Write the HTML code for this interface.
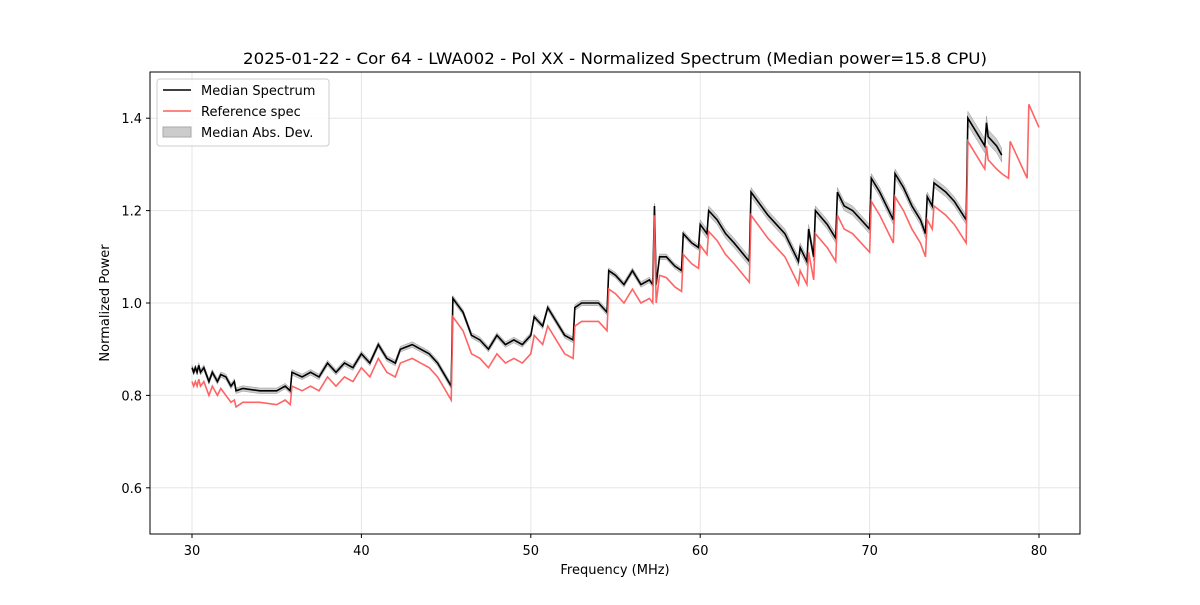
<!DOCTYPE html>
<html><head><meta charset="utf-8"><style>
body{margin:0;background:#fff;font-family:"Liberation Sans","DejaVu Sans",sans-serif;}
svg text{font-family:"DejaVu Sans","Liberation Sans",sans-serif;}
</style></head><body>
<svg id="chart" width="1200" height="600" xmlns="http://www.w3.org/2000/svg">
<rect width="1200" height="600" fill="#fff"/>
<text x="615" y="64" font-size="16" textLength="744" lengthAdjust="spacingAndGlyphs" text-anchor="middle">2025-01-22 - Cor 64 - LWA002 - Pol XX - Normalized Spectrum (Median power=15.8 CPU)</text>
<g id="grid"></g>
<g id="series"></g>
<rect x="150" y="72" width="930" height="462" fill="none" stroke="#000" stroke-width="1"/>
<g id="ticks"></g>
<text x="615" y="574" font-size="13" text-anchor="middle">Frequency (MHz)</text>
<text transform="translate(109,303) rotate(-90)" font-size="13" text-anchor="middle">Normalized Power</text>
<g>
<rect x="157" y="79" width="172" height="67" rx="3" fill="#fff" fill-opacity="0.8" stroke="#ccc"/>
<line x1="163" y1="90" x2="191" y2="90" stroke="#000" stroke-width="1.5"/>
<text x="201" y="95" font-size="13">Median Spectrum</text>
<line x1="163" y1="111" x2="191" y2="111" stroke="#ff5c5c" stroke-width="1.5"/>
<text x="201" y="116" font-size="13">Reference spec</text>
<rect x="163" y="127" width="28" height="10" fill="#ccc" stroke="#aaa"/>
<text x="201" y="137" font-size="13">Median Abs. Dev.</text>
</g>
</svg>
<script>
const xTicks=[30,40,50,60,70,80];
const yTicks=[0.6,0.8,1.0,1.2,1.4];
const medFreq=[30.0,30.1,30.2,30.3,30.4,30.5,30.7,31,31.2,31.5,31.7,32,32.3,32.5,32.6,33,34,35,35.5,35.8,35.9,36.5,37,37.5,38,38.5,39,39.5,40,40.5,41,41.5,42,42.3,43,43.5,44,44.5,45.3,45.4,46,46.5,47,47.5,48,48.5,49,49.5,50,50.2,50.7,51,51.5,52,52.5,52.6,53,53.5,54,54.5,54.6,55,55.5,56,56.5,57,57.2,57.3,57.4,57.6,58,58.5,58.9,59,59.5,59.9,60,60.4,60.5,61,61.5,62,62.9,63,64,65,65.8,65.9,66.3,66.4,66.7,66.8,67.5,68,68.1,68.5,69,69.5,70,70.1,70.6,71,71.4,71.5,72,72.5,73,73.3,73.4,73.7,73.8,74.5,75,75.7,75.8,76.3,76.8,76.9,77,77.5,77.8];
const medVal=[0.86,0.85,0.86,0.85,0.865,0.85,0.86,0.83,0.85,0.83,0.845,0.84,0.82,0.83,0.81,0.815,0.81,0.81,0.82,0.81,0.85,0.84,0.85,0.84,0.87,0.85,0.87,0.86,0.89,0.87,0.91,0.88,0.87,0.90,0.91,0.90,0.89,0.87,0.82,1.01,0.98,0.93,0.92,0.90,0.93,0.91,0.92,0.91,0.93,0.97,0.95,0.99,0.96,0.93,0.92,0.99,1.00,1.00,1.00,0.98,1.07,1.06,1.04,1.07,1.04,1.05,1.04,1.21,1.04,1.10,1.10,1.08,1.07,1.15,1.13,1.12,1.17,1.15,1.20,1.18,1.15,1.13,1.09,1.24,1.19,1.15,1.09,1.12,1.09,1.16,1.10,1.20,1.17,1.14,1.24,1.21,1.20,1.18,1.16,1.27,1.24,1.21,1.18,1.28,1.25,1.21,1.18,1.15,1.23,1.21,1.26,1.24,1.22,1.18,1.40,1.37,1.34,1.39,1.36,1.34,1.32];
const refFreq=[30.0,30.1,30.2,30.3,30.4,30.5,30.7,31,31.2,31.5,31.7,32,32.3,32.5,32.6,33,34,35,35.5,35.8,35.9,36.5,37,37.5,38,38.5,39,39.5,40,40.5,41,41.5,42,42.3,43,43.5,44,44.5,45.3,45.4,46,46.5,47,47.5,48,48.5,49,49.5,50,50.2,50.7,51,51.5,52,52.5,52.6,53,53.5,54,54.5,54.6,55,55.5,56,56.5,57,57.2,57.3,57.4,57.6,58,58.5,58.9,59,59.5,59.9,60,60.4,60.5,61,61.5,62,62.9,63,64,65,65.8,65.9,66.3,66.4,66.7,66.8,67.5,68,68.1,68.5,69,69.5,70,70.1,70.6,71,71.4,71.5,72,72.5,73,73.3,73.4,73.7,73.8,74.5,75,75.7,75.8,76.3,76.8,76.9,77,77.5,77.8,78.2,78.3,79.3,79.4,80];
const refVal=[0.83,0.82,0.83,0.82,0.835,0.82,0.83,0.80,0.82,0.80,0.815,0.80,0.785,0.79,0.775,0.785,0.785,0.78,0.79,0.78,0.82,0.81,0.82,0.81,0.84,0.82,0.84,0.83,0.86,0.84,0.88,0.85,0.84,0.87,0.88,0.87,0.86,0.84,0.79,0.97,0.94,0.89,0.88,0.86,0.89,0.87,0.88,0.87,0.89,0.93,0.91,0.95,0.92,0.89,0.88,0.95,0.96,0.96,0.96,0.94,1.03,1.02,1.00,1.03,1.00,1.01,1.00,1.19,1.00,1.06,1.055,1.035,1.025,1.105,1.085,1.075,1.125,1.105,1.155,1.135,1.105,1.085,1.045,1.19,1.14,1.10,1.04,1.07,1.04,1.11,1.05,1.15,1.12,1.09,1.19,1.16,1.15,1.13,1.11,1.22,1.19,1.16,1.13,1.23,1.20,1.16,1.13,1.10,1.18,1.16,1.21,1.19,1.17,1.13,1.35,1.32,1.29,1.34,1.31,1.29,1.28,1.27,1.35,1.27,1.43,1.38];
const madEdges=[30,60,75.8];
const madVals=[0.006,0.01,0.015];

const X=f=>192+(f-30)*16.94, Y=v=>534-(v-0.5)*462;
const NS="http://www.w3.org/2000/svg";
function mk(t,a,p){const e=document.createElementNS(NS,t);for(const k in a)e.setAttribute(k,a[k]);p.appendChild(e);return e;}
const grid=document.getElementById('grid'),ticks=document.getElementById('ticks'),ser=document.getElementById('series');
xTicks.forEach(t=>{const x=X(t);
const g=mk('line',{x1:x,x2:x,y1:72,y2:534,stroke:'#e6e6e6'},grid);


mk('line',{x1:x,x2:x,y1:534,y2:538,stroke:'#000'},ticks);
const tx=mk('text',{x:x,y:555,'font-size':13,'text-anchor':'middle'},ticks);tx.textContent=t;

});
yTicks.forEach(t=>{const y=Y(t);
const g=mk('line',{x1:150,x2:1080,y1:y,y2:y,stroke:'#e6e6e6'},grid);


mk('line',{x1:146,x2:150,y1:y,y2:y,stroke:'#000'},ticks);
const tx=mk('text',{x:142,y:y+5,'font-size':13,'text-anchor':'end'},ticks);tx.textContent=t.toFixed(1);

});
function mad(f){let m=madVals[0];madEdges.forEach((e,i)=>{if(f>=e)m=madVals[i];});return m;}
let up=medFreq.map((f,i)=>X(f)+','+Y(medVal[i]+mad(f))).join(' ');
let dn=medFreq.map((f,i)=>X(f)+','+Y(medVal[i]-mad(f))).reverse().join(' ');
const band=mk('polygon',{points:up+' '+dn,fill:'#aaa','fill-opacity':0.6,stroke:'#999','stroke-width':0.5},ser);


const med=mk('polyline',{points:medFreq.map((f,i)=>X(f)+','+Y(medVal[i])).join(' '),fill:'none',stroke:'#000','stroke-width':1.6},ser);


const ref=mk('polyline',{points:refFreq.map((f,i)=>X(f)+','+Y(refVal[i])).join(' '),fill:'none',stroke:'#ff5c5c','stroke-width':1.6,'stroke-opacity':0.95},ser);


</script>
</body></html>
